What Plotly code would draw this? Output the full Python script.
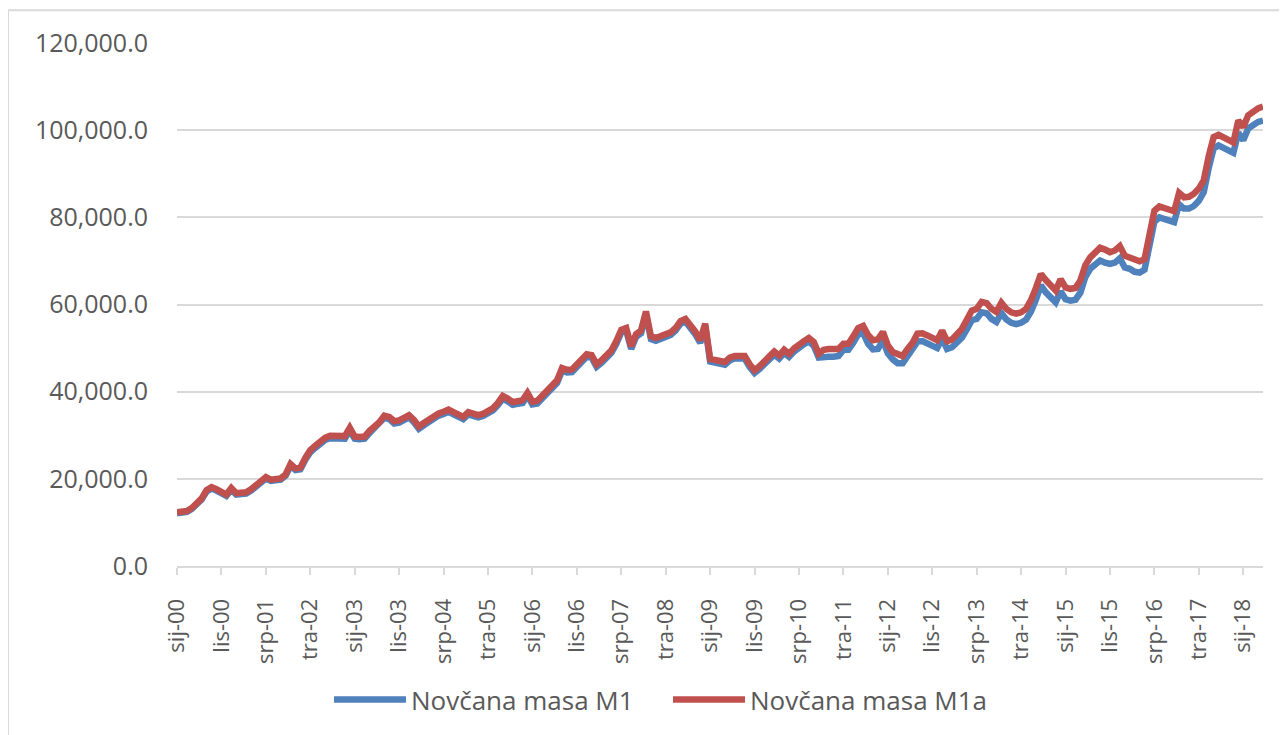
import plotly.graph_objects as go

# Croatian month abbreviations and years (monthly data, Jan 2000 - May 2018)
MONTHS = ["sij", "velj", "ožu", "tra", "svi", "lip", "srp", "kol", "ruj", "lis", "stu", "pro"]
YEARS = list(range(2000, 2019))
N_POINTS = 221

categories = [f"{MONTHS[m]}-{y % 100:02d}" for y in YEARS for m in range(12)][:N_POINTS]

# Values, in thousands (converted to units below)
m1_thousands = [
    12.1, 12.3, 12.4, 13.1, 14.0, 15.3, 17.1, 17.8, 17.3, 16.8, 16.1, 17.5,
    16.4, 16.5, 16.6, 17.3, 18.2, 18.9, 20.1, 19.5, 19.6, 19.8, 20.7, 23.0,
    22.0, 22.2, 24.4, 26.1, 27.1, 28.0, 28.9, 29.3, 29.3, 29.3, 29.2, 31.1,
    29.2, 29.1, 29.2, 30.5, 31.5, 32.5, 34.0, 33.7, 32.7, 32.9, 33.5, 34.1,
    33.0, 31.5, 32.3, 33.1, 33.9, 34.5, 34.9, 35.4, 34.8, 34.2, 33.7, 34.8,
    34.6, 34.1, 34.4, 34.9, 35.7, 36.9, 38.4, 37.8, 37.0, 37.2, 37.4, 39.1,
    37.1, 37.3, 38.4, 39.4, 40.7, 42.0, 44.8, 44.4, 44.5, 45.7, 46.9, 48.0,
    47.8, 45.7, 46.6, 47.7, 48.9, 51.0, 53.6, 54.0, 49.8, 52.6, 53.4, 57.8,
    52.1, 51.7, 52.2, 52.9, 53.0, 54.0, 55.6, 56.1, 54.9, 53.2, 51.2, 55.0,
    46.9, 46.6, 46.4, 46.2, 47.2, 47.6, 47.6, 47.6, 45.7, 44.3, 45.2, 46.5,
    47.4, 48.5, 47.6, 48.9, 48.0, 49.2, 50.3, 50.9, 51.5, 50.5, 47.8, 48.0,
    48.0, 48.0, 48.2, 49.6, 49.6, 51.2, 53.2, 53.5, 51.0, 49.7, 49.8, 51.8,
    48.8, 47.4, 46.5, 46.5, 48.0, 49.5, 51.5, 51.6, 51.1, 50.6, 50.0, 52.2,
    49.8, 50.2, 51.4, 52.4, 54.3, 56.4, 56.7, 58.2, 58.0, 56.7, 56.0, 58.0,
    56.6, 55.8, 55.5, 55.8, 56.5, 58.4, 61.1, 64.4, 62.8, 61.4, 60.5, 63.0,
    61.2, 60.9, 61.1, 62.7, 66.3, 68.2, 69.4, 70.1, 69.6, 69.3, 69.6, 70.6,
    68.5, 68.2, 67.5, 67.3, 68.0, 73.5, 79.0, 80.0, 79.5, 79.1, 78.9, 83.0,
    82.0, 82.0, 82.6, 83.8, 85.8, 91.3, 95.8, 96.5, 95.8, 95.2, 94.8, 99.4,
    97.7, 100.4, 101.2, 101.9, 102.2,
]

m1a_thousands = [
    12.3, 12.5, 12.6, 13.3, 14.2, 15.5, 17.4, 18.1, 17.6, 17.1, 16.4, 17.9,
    16.7, 16.8, 16.9, 17.6, 18.5, 19.2, 20.4, 19.8, 19.9, 20.1, 21.0, 23.4,
    22.4, 22.6, 24.8, 26.6, 27.6, 28.6, 29.4, 29.9, 29.9, 29.9, 29.8, 31.7,
    29.7, 29.6, 29.7, 31.0, 32.0, 33.0, 34.5, 34.2, 33.2, 33.4, 34.0, 34.6,
    33.5, 32.0, 32.8, 33.6, 34.4, 35.0, 35.4, 35.9, 35.3, 34.7, 34.2, 35.3,
    35.1, 34.6, 34.9, 35.4, 36.2, 37.4, 39.0, 38.4, 37.6, 37.8, 38.0, 39.7,
    37.7, 37.9, 39.0, 40.0, 41.3, 42.6, 45.4, 45.0, 45.1, 46.3, 47.5, 48.6,
    48.4, 46.3, 47.2, 48.3, 49.5, 51.6, 54.2, 54.6, 50.4, 53.2, 54.0, 58.4,
    52.7, 52.3, 52.8, 53.5, 53.6, 54.6, 56.2, 56.7, 55.5, 53.8, 51.8, 55.6,
    47.5, 47.2, 47.0, 46.8, 47.8, 48.2, 48.2, 48.2, 46.3, 44.9, 45.8, 47.2,
    48.1, 49.2, 48.3, 49.6, 48.7, 49.9, 51.0, 51.6, 52.3, 51.4, 48.7, 49.6,
    49.8, 49.8, 49.8, 51.0, 51.0, 52.7, 54.6, 55.1, 53.0, 51.8, 52.0, 53.7,
    50.6, 49.1, 48.5, 48.2, 49.8, 51.2, 53.3, 53.4, 52.9, 52.4, 51.8, 54.0,
    51.6, 52.0, 53.3, 54.4, 56.5, 58.6, 59.0, 60.6, 60.3, 59.0, 58.3, 60.4,
    59.0, 58.2, 57.9, 58.2, 59.0, 61.0, 63.8, 67.0, 65.6, 64.2, 63.2, 65.8,
    63.9, 63.6, 63.8, 65.5, 69.0, 70.8, 72.0, 73.0, 72.6, 72.0, 72.4, 73.4,
    71.2, 70.8, 70.2, 69.9, 70.4, 76.0, 81.5, 82.5, 82.0, 81.6, 81.4, 85.6,
    84.6, 84.7, 85.4, 86.6, 88.5, 94.0, 98.4, 98.9, 98.3, 97.8, 97.2, 102.2,
    100.7, 103.4, 104.3, 105.0, 105.4,
]

m1 = [v * 1000 for v in m1_thousands]
m1a = [v * 1000 for v in m1a_thousands]

tick_labels = categories[::9]
series_names = ["Novčana masa M1", "Novčana masa M1a"]
series_colors = ["#4F81BD", "#C0504D"]

FONT = "Open Sans"
GREY_TXT = "#595959"
GRID = "#D9D9D9"

fig = go.Figure()
for name, vals, col in zip(series_names, [m1, m1a], series_colors):
    fig.add_trace(go.Scatter(
        x=categories, y=vals, mode="lines", name=name,
        line=dict(color=col, width=6.5),
    ))

# target geometry in page pixels; the page body adds an 8px offset
OFF = 8
W, H = 1287 - OFF, 735 - OFF
L, R, T, B = 177 - OFF, 1263 - OFF, 43 - OFF, 568 - OFF
pw, ph = R - L, B - T


def px_x(page_x):
    return (page_x - OFF - L) / pw


def px_y(page_y):
    return (B - (page_y - OFF)) / ph


fig.update_layout(
    width=W, height=H,
    margin=dict(l=L, r=W - R, t=T, b=H - B),
    paper_bgcolor="white", plot_bgcolor="white",
    font=dict(family=FONT, color=GREY_TXT),
    legend=dict(
        orientation="h", x=px_x(329), xanchor="left",
        y=px_y(702), yanchor="middle",
        font=dict(size=26, family=FONT, color=GREY_TXT),
        bgcolor="rgba(0,0,0,0)", itemwidth=72,
        entrywidth=252, entrywidthmode="pixels",
    ),
    xaxis=dict(
        type="category", range=[0, N_POINTS - 1],
        tickmode="array", tickvals=tick_labels, ticktext=tick_labels,
        tickangle=-90, tickfont=dict(size=22, family=FONT, color=GREY_TXT),
        ticks="outside", ticklen=7, tickwidth=2, tickcolor=GRID,
        showline=True, linecolor=GRID, linewidth=2,
        showgrid=False, zeroline=False, ticklabelstandoff=15,
    ),
    yaxis=dict(
        range=[0, 120000], dtick=20000, tickformat=",.1f",
        tickfont=dict(size=25, family=FONT, color=GREY_TXT),
        showgrid=True, gridcolor=GRID, gridwidth=2,
        zeroline=False, showline=False, ticks="", ticklabelstandoff=28,
    ),
    shapes=[dict(
        type="rect", xref="paper", yref="paper",
        x0=px_x(8), x1=px_x(1320),
        y0=px_y(780), y1=px_y(10),
        line=dict(color=GRID, width=2), fillcolor="rgba(0,0,0,0)", layer="below",
    )],
)

fig.write_html("out.html")
